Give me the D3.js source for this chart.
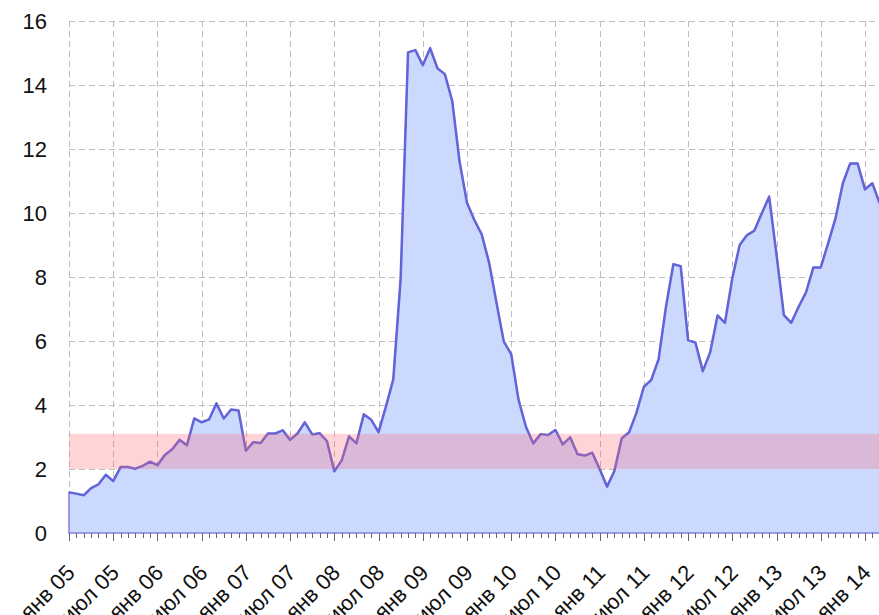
<!DOCTYPE html>
<html>
<head>
<meta charset="utf-8">
<script src="https://cdn.jsdelivr.net/npm/d3@7"></script>
<style>
  html, body { margin: 0; padding: 0; background: #fff; }
  svg { display: block; }
  text { font-family: "Liberation Sans", Arial, sans-serif; fill: #111; }
</style>
</head>
<body>
<svg id="chart" width="879" height="615"></svg>
<script>
// Monthly values, Jan 2005 .. Mar 2014
const values = [
  1.27, 1.23, 1.18, 1.40, 1.52, 1.82, 1.62, 2.06, 2.06, 2.01, 2.10, 2.23,
  2.12, 2.44, 2.62, 2.91, 2.74, 3.58, 3.46, 3.55, 4.05, 3.58, 3.86, 3.83,
  2.57, 2.84, 2.81, 3.11, 3.11, 3.21, 2.91, 3.11, 3.46, 3.08, 3.12, 2.87,
  1.93, 2.27, 3.02, 2.80, 3.71, 3.54, 3.15, 3.95, 4.80, 7.95, 15.02, 15.09,
  14.62, 15.15, 14.52, 14.34, 13.50, 11.60, 10.32, 9.78, 9.33, 8.45, 7.20, 5.98,
  5.59, 4.16, 3.32, 2.80, 3.09, 3.06, 3.22, 2.77, 2.99, 2.46, 2.42, 2.51,
  2.00, 1.45, 1.94, 2.96, 3.15, 3.76, 4.57, 4.78, 5.43, 7.07, 8.40, 8.34,
  6.03, 5.95, 5.06, 5.65, 6.80, 6.57, 7.96, 9.00, 9.31, 9.45, 9.99, 10.51,
  8.70, 6.81, 6.57, 7.07, 7.52, 8.30, 8.30, 9.05, 9.83, 10.93, 11.55, 11.55,
  10.74, 10.93, 10.30
];
const tickLabels = [
  "янв 05", "июл 05", "янв 06", "июл 06", "янв 07", "июл 07", "янв 08", "июл 08",
  "янв 09", "июл 09", "янв 10", "июл 10", "янв 11", "июл 11", "янв 12", "июл 12",
  "янв 13", "июл 13", "янв 14"
];
const yTicks = [0, 2, 4, 6, 8, 10, 12, 14, 16];
const targetBand = [2, 3.1];

const svg = d3.select("#chart");
const x = d3.scaleLinear().domain([0, values.length - 1]).range([69, 879.7]);
const y = d3.scaleLinear().domain([0, 16]).range([533, 21]);

const monthIdx = d3.range(values.length);
const majorIdx = tickLabels.map((d, i) => i * 6);
const fontSize = 22;

// grid
const grid = svg.append("g").attr("stroke", "#bdbdbd").attr("stroke-width", 1).attr("stroke-dasharray", "6,4");
grid.selectAll("line.h").data(yTicks.filter(d => d > 0)).join("line")
  .attr("x1", x(0)).attr("x2", 879)
  .attr("y1", d => Math.round(y(d)) + 0.5).attr("y2", d => Math.round(y(d)) + 0.5);
grid.selectAll("line.v").data(majorIdx).join("line")
  .attr("x1", d => Math.round(x(d)) + 0.5).attr("x2", d => Math.round(x(d)) + 0.5)
  .attr("y1", y(16)).attr("y2", y(0));

// area
const area = d3.area().x((d, i) => x(i)).y0(y(0)).y1(d => y(d));
svg.append("path").datum(values).attr("d", area)
  .attr("fill", "#ccd9ff").attr("stroke", "none");

// outline of area (left edge, top line, bottom)
const line = d3.line().x((d, i) => x(i)).y(d => y(d));
svg.append("path").datum(values).attr("d", area)
  .attr("fill", "none").attr("stroke", "#8080e0").attr("stroke-width", 1.5);
svg.append("path").datum(values).attr("d", line)
  .attr("fill", "none").attr("stroke", "#6464d8").attr("stroke-width", 2.5)
  .attr("stroke-linejoin", "round");

// target band
svg.append("rect")
  .attr("x", x(0)).attr("width", 879 - x(0))
  .attr("y", y(targetBand[1])).attr("height", y(targetBand[0]) - y(targetBand[1]))
  .attr("fill", "rgb(255,100,110)").attr("fill-opacity", 0.28);

// x ticks
const ticks = svg.append("g").attr("stroke", "#666").attr("stroke-width", 1);
ticks.selectAll("line").data(monthIdx).join("line")
  .attr("x1", d => Math.round(x(d)) + 0.5).attr("x2", d => Math.round(x(d)) + 0.5)
  .attr("y1", y(0)).attr("y2", d => y(0) + (d % 6 === 0 ? 8 : 5));

// x labels (rotated, right end near tick)
const capOff = 0.716 * fontSize * Math.SQRT1_2;
svg.append("g").selectAll("text").data(tickLabels).join("text")
  .attr("transform", (d, i) => `translate(${x(i * 6) - 4 + capOff},${y(0) + 30 + capOff}) rotate(-45)`)
  .attr("text-anchor", "end")
  .attr("font-size", fontSize)
  .text(d => d);

// y labels
svg.append("g").selectAll("text").data(yTicks).join("text")
  .attr("x", 47).attr("y", d => y(d))
  .attr("text-anchor", "end").attr("dy", "0.36em")
  .attr("font-size", fontSize)
  .text(d => d);
</script>
</body>
</html>
